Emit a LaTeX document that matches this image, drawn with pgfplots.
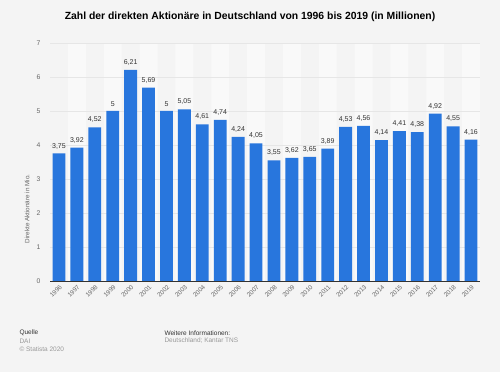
\documentclass[border=0pt]{standalone}
\usepackage{pgfplots}
\pgfplotsset{compat=1.18}
\usepackage{fontspec}
\setmainfont{Liberation Sans}
\definecolor{bg}{HTML}{F4F4F4}
\definecolor{stripe}{HTML}{F9F9F9}
\definecolor{barblue}{HTML}{2876DD}
\definecolor{gridc}{HTML}{E6E6E6}
\definecolor{tickc}{HTML}{666666}
\definecolor{darktxt}{HTML}{333333}
\definecolor{lighttxt}{HTML}{999999}
\begin{document}
\begin{tikzpicture}[x=1pt,y=1pt]
\fill[bg] (0,0) rectangle (500,372);
\node[font=\bfseries\fontsize{10.4}{12}\selectfont, text=black] at (250,355) {Zahl der direkten Aktionäre in Deutschland von 1996 bis 2019 (in Millionen)};
\node[rotate=90, font=\fontsize{6.3}{7}\selectfont, text=tickc] at (27,163) {Direkte Aktionäre in Mio.};
\begin{axis}[
  at={(50pt,91pt)}, anchor=south west,
  scale only axis, width=430pt, height=238pt,
  xmin=-0.5, xmax=23.5, ymin=0, ymax=7,
  hide axis,
]
\addplot[ybar, bar width=1, bar shift=0pt, fill=stripe, draw=none] coordinates {(1,7) (3,7) (5,7) (7,7) (9,7) (11,7) (13,7) (15,7) (17,7) (19,7) (21,7) (23,7)};
\end{axis}
\begin{axis}[
  at={(50pt,91pt)}, anchor=south west,
  scale only axis, width=430pt, height=238pt,
  xmin=-0.5, xmax=23.5, ymin=0, ymax=7,
  axis x line*=bottom, axis y line*=left,
  x axis line style={draw=darktxt, line width=0.8pt},
  y axis line style={draw=none},
  ytick={0,1,...,7},
  ymajorgrids, grid style={gridc, line width=0.6pt},
  major tick length=0pt,
  xtick={0,...,23},
  xticklabels={1996,1997,1998,1999,2000,2001,2002,2003,2004,2005,2006,2007,2008,2009,2010,2011,2012,2013,2014,2015,2016,2017,2018,2019},
  x tick label style={rotate=45, anchor=east, font=\fontsize{6.3}{7}\selectfont, text=tickc, xshift=1pt, yshift=-5pt},
  y tick label style={font=\fontsize{6.8}{8}\selectfont, text=tickc},
  yticklabel style={xshift=-6pt},
  /pgf/number format/assume math mode=true,
  /pgf/number format/use comma,
  clip=false,
]
\addplot[ybar, bar width=0.72, bar shift=0pt, fill=barblue, draw=none,
  nodes near coords,
  every node near coord/.append style={font=\fontsize{7}{8}\selectfont, text=darktxt, yshift=1pt, /pgf/number format/use comma, /pgf/number format/assume math mode=true}]
coordinates {
(0,3.75) (1,3.92) (2,4.52) (3,5) (4,6.21) (5,5.69) (6,5) (7,5.05) (8,4.61) (9,4.74) (10,4.24) (11,4.05) (12,3.55) (13,3.62) (14,3.65) (15,3.89) (16,4.53) (17,4.56) (18,4.14) (19,4.41) (20,4.38) (21,4.92) (22,4.55) (23,4.16)
};
\end{axis}
\node[anchor=west, font=\fontsize{6.5}{7}\selectfont, text=darktxt] at (16,39) {Quelle};
\node[anchor=west, font=\fontsize{6.5}{7}\selectfont, text=lighttxt] at (16,31) {DAI};
\node[anchor=west, font=\fontsize{6.5}{7}\selectfont, text=lighttxt] at (16,23) {© Statista 2020};
\node[anchor=west, font=\fontsize{6.5}{7}\selectfont, text=darktxt] at (161,39) {Weitere Informationen:};
\node[anchor=west, font=\fontsize{6.5}{7}\selectfont, text=lighttxt] at (161,31) {Deutschland; Kantar TNS};
\end{tikzpicture}
\end{document}
